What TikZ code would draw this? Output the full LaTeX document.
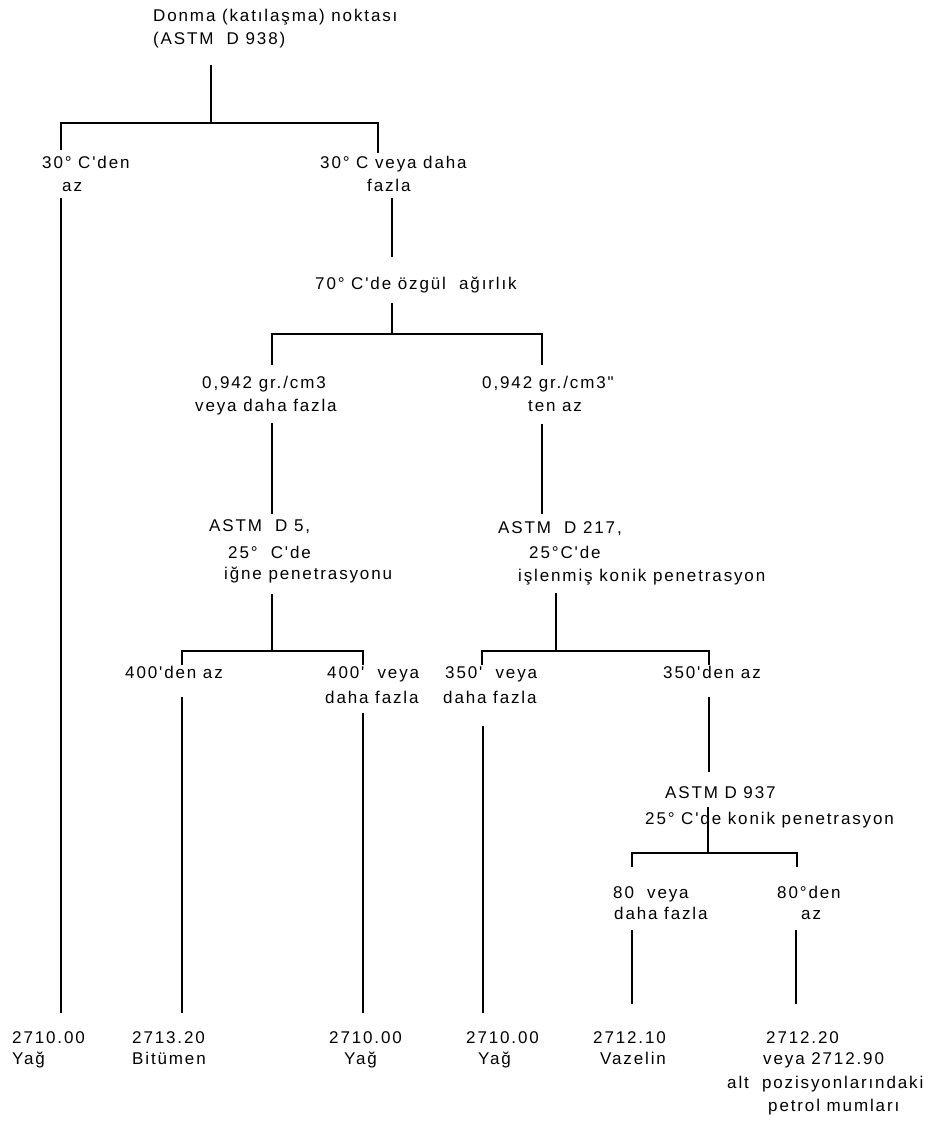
\documentclass[tikz,border=0pt]{standalone}
\usepackage{fontspec}
\newfontfamily\rf{Liberation Sans}[LetterSpace=11]
\begin{document}
\begin{tikzpicture}[x=1pt,y=-1pt,
  txt/.style={anchor=base west, inner sep=0pt, font=\rf\fontsize{17}{23}\selectfont},
  ln/.style={line width=1.3pt, line cap=butt}]
\useasboundingbox (0,0) rectangle (932,1122);
\fill[white] (0,0) rectangle (932,1122);
% ---------- texts ----------
\node[txt] (root1) at (153,21) {Donma (katılaşma) noktası};
\node[txt] (root2) at (153,44) {(ASTM~ D 938)};
\node[txt] (a1) at (42,168) {30° C'den};
\node[txt] (a2) at (62,191) {az};
\node[txt] (b1) at (320,168) {30° C veya daha};
\node[txt] (b2) at (367,191) {fazla};
\node[txt] (c1) at (315,289) {70° C'de özgül~ ağırlık};
\node[txt] (d1) at (202,388) {0,942 gr./cm3};
\node[txt] (d2) at (195,411) {veya daha fazla};
\node[txt] (e1) at (482,388) {0,942 gr./cm3"};
\node[txt] (e2) at (528,411) {ten az};
\node[txt] (f1) at (209,531) {ASTM~ D 5,};
\node[txt] (f2) at (228,558) {25°~ C'de};
\node[txt] (f3) at (224,579) {iğne penetrasyonu};
\node[txt] (g1) at (498,533) {ASTM~ D 217,};
\node[txt] (g2) at (529,558) {25°C'de};
\node[txt] (g3) at (518,581) {işlenmiş konik penetrasyon};
\node[txt] (h1) at (125,678) {400'den az};
\node[txt] (i1) at (327,678) {400'~ veya};
\node[txt] (i2) at (325,703) {daha fazla};
\node[txt] (j1) at (445,678) {350'~ veya};
\node[txt] (j2) at (443,703) {daha fazla};
\node[txt] (k1) at (663,678) {350'den az};
\node[txt] (l1) at (665,798) {ASTM D 937};
\node[txt] (l2) at (645,824) {25° C'de konik penetrasyon};
\node[txt] (m1) at (613,898) {80~ veya};
\node[txt] (m2) at (614,919) {daha fazla};
\node[txt] (n1) at (777,898) {80°den};
\node[txt] (n2) at (801,919) {az};
% bottom labels
\node[txt] (p1) at (12,1043) {2710.00};
\node[txt] (p2) at (12,1064) {Yağ};
\node[txt] (q1) at (132,1043) {2713.20};
\node[txt] (q2) at (132,1064) {Bitümen};
\node[txt] (r1) at (329,1043) {2710.00};
\node[txt] (r2) at (344,1064) {Yağ};
\node[txt] (s1) at (466,1043) {2710.00};
\node[txt] (s2) at (478,1064) {Yağ};
\node[txt] (u1) at (593,1043) {2712.10};
\node[txt] (u2) at (600,1064) {Vazelin};
\node[txt] (v1) at (766,1043) {2712.20};
\node[txt] (v2) at (763,1064) {veya 2712.90};
\node[txt] (v3) at (727,1088) {alt~ pozisyonlarındaki};
\node[txt] (v4) at (768,1111) {petrol mumları};
% ---------- connector points ----------
\coordinate (R0) at (211,65);  \coordinate (R1) at (211,123);
\coordinate (RL) at (61,123);  \coordinate (RLd) at (61,150);
\coordinate (RR) at (378,123); \coordinate (RRd) at (378,153);
\coordinate (A0) at (61,198);  \coordinate (A1) at (61,1013);
\coordinate (B0) at (392,198); \coordinate (B1) at (392,257);
\coordinate (C0) at (392,303); \coordinate (C1) at (392,334);
\coordinate (CL) at (272,334); \coordinate (CLd) at (272,365);
\coordinate (CR) at (542,334); \coordinate (CRd) at (542,365);
\coordinate (D0) at (272,423); \coordinate (D1) at (272,514);
\coordinate (E0) at (542,424); \coordinate (E1) at (542,514);
\coordinate (F0) at (272,594); \coordinate (F1) at (272,651);
\coordinate (FL) at (182,651); \coordinate (FLd) at (182,665);
\coordinate (FR) at (363,651); \coordinate (FRd) at (363,665);
\coordinate (G0) at (556,593); \coordinate (G1) at (556,651);
\coordinate (GL) at (482,651); \coordinate (GLd) at (482,665);
\coordinate (GR) at (709,651); \coordinate (GRd) at (709,665);
\coordinate (H0) at (182,697); \coordinate (H1) at (182,1013);
\coordinate (I0) at (363,713); \coordinate (I1) at (363,1013);
\coordinate (J0) at (483,726); \coordinate (J1) at (483,1013);
\coordinate (K0) at (709,697); \coordinate (K1) at (709,772);
\coordinate (L0) at (708,807); \coordinate (L1) at (708,853);
\coordinate (LL) at (632,853); \coordinate (LLd) at (632,867);
\coordinate (LR) at (797,853); \coordinate (LRd) at (797,867);
\coordinate (M0) at (632,930); \coordinate (M1) at (632,1004);
\coordinate (N0) at (796,930); \coordinate (N1) at (796,1004);
% ---------- connectors ----------
\draw[ln] (R0) -- (R1);
\draw[ln] (RLd) -- (RL) -- (RR) -- (RRd);
\draw[ln] (A0) -- (A1);
\draw[ln] (B0) -- (B1);
\draw[ln] (C0) -- (C1);
\draw[ln] (CLd) -- (CL) -- (CR) -- (CRd);
\draw[ln] (D0) -- (D1);
\draw[ln] (E0) -- (E1);
\draw[ln] (F0) -- (F1);
\draw[ln] (FLd) -- (FL) -- (FR) -- (FRd);
\draw[ln] (G0) -- (G1);
\draw[ln] (GLd) -- (GL) -- (GR) -- (GRd);
\draw[ln] (H0) -- (H1);
\draw[ln] (I0) -- (I1);
\draw[ln] (J0) -- (J1);
\draw[ln] (K0) -- (K1);
\draw[ln] (L0) -- (L1);
\draw[ln] (LLd) -- (LL) -- (LR) -- (LRd);
\draw[ln] (M0) -- (M1);
\draw[ln] (N0) -- (N1);
\end{tikzpicture}
\end{document}
